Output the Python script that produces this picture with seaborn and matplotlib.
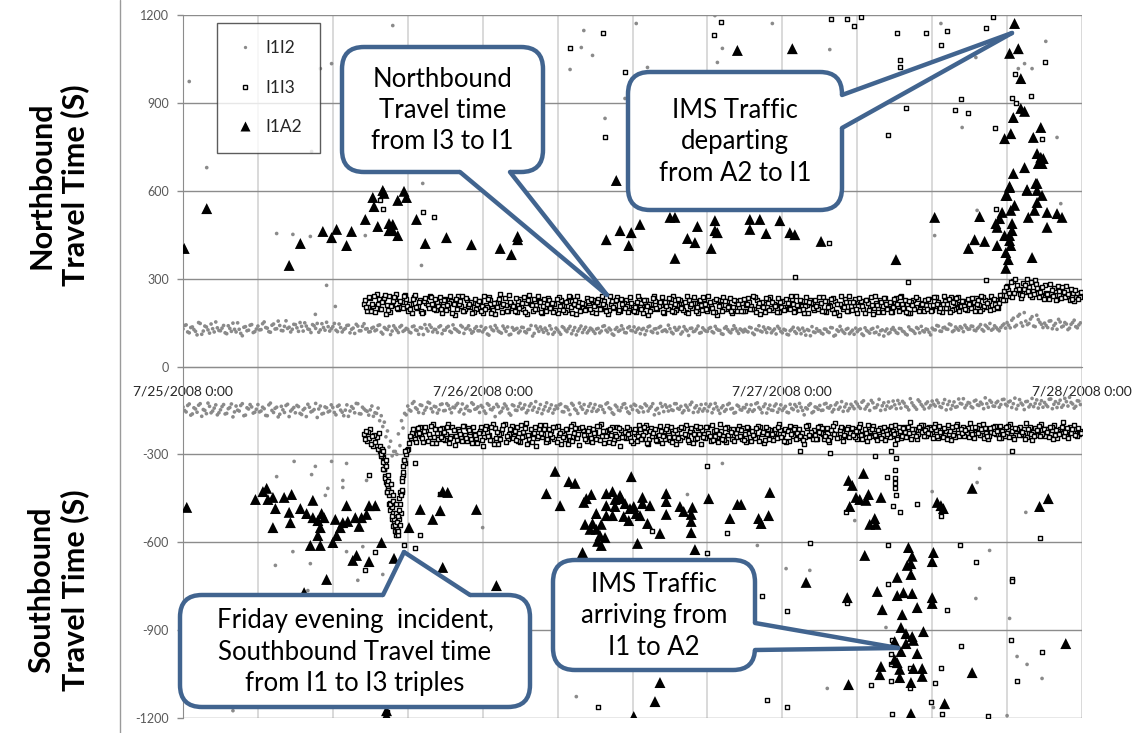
import numpy as np
import pandas as pd
import matplotlib
matplotlib.use("Agg")
import matplotlib.pyplot as plt
import seaborn as sns
from matplotlib.patches import FancyBboxPatch, Polygon
from matplotlib.lines import Line2D

# ---------------- DATA (hours since 7/25/2008 0:00, travel time in s) ----------------
x_tick_labels = ["7/25/2008 0:00", "7/26/2008 0:00", "7/27/2008 0:00", "7/28/2008 0:00"]
y_ticks = [-1200, -900, -600, -300, 0, 300, 600, 900, 1200]

# dense bands: readings every 15 min, several detector passes (start hour of each pass)
nb_i1i2_start_a = 0.0
nb_i1i2_a = [
    128,142,115,135,120,150,110,138,125,145,118,132, 122,140,112,130,148,118,127,105,136,124,143,119,
    138,126,152,131,117,145,129,140,122,156,134,127, 143,120,137,149,128,116,139,147,125,133,151,121,
    136,124,145,118,130,141,127,113,138,122,146,129, 119,134,125,142,111,128,137,121,131,116,140,124,
    127,115,138,123,133,109,129,142,118,126,135,112, 124,137,116,129,121,140,113,131,125,119,136,122,
    118,132,107,126,140,121,114,129,135,110,124,130, 121,133,115,127,104,138,120,126,131,112,128,117,
    125,110,132,119,137,123,108,129,116,134,122,127, 113,130,121,139,118,125,107,133,124,128,115,136,
    122,117,131,126,109,135,120,128,114,137,123,119, 129,112,124,134,118,127,106,131,121,138,116,125,
    120,133,115,128,123,110,136,119,126,130,113,124, 127,118,132,109,125,121,135,116,129,122,111,130,
    115,124,108,127,119,131,112,121,126,105,118,129, 122,111,127,116,132,107,120,125,113,130,118,110,
    119,128,106,123,114,130,117,109,125,121,112,127, 124,113,129,118,108,126,120,133,115,122,128,117,
    131,125,138,120,134,127,142,123,129,136,119,133, 128,137,122,135,126,141,130,124,139,127,133,145,
    150,132,165,141,178,138,155,147,170,136,160,144, 148,133,156,140,127,152,138,145,131,150,136,142]
nb_i1i2_start_b = 0.125
nb_i1i2_b = [
    140,118,133,126,108,147,121,135,114,129,152,123, 131,115,139,120,127,149,113,134,122,141,116,128,
    125,146,133,119,141,128,155,123,137,130,118,144, 132,150,121,138,126,143,130,117,146,124,136,129,
    147,119,133,126,140,115,131,144,122,137,128,118, 131,122,140,117,133,126,109,139,124,135,120,130,
    118,136,125,110,131,143,121,134,127,116,139,124, 133,120,142,126,117,135,128,139,114,130,122,137,
    126,111,135,122,131,117,138,120,108,133,127,115, 134,119,126,140,113,129,135,117,123,139,110,131,
    117,136,124,129,112,133,121,138,126,115,131,120, 128,115,137,124,131,111,127,120,139,116,132,123,
    135,126,112,130,122,138,116,129,133,120,125,141, 117,133,126,111,136,122,130,119,128,114,132,121,
    130,119,137,124,112,131,126,115,139,121,128,118, 121,134,114,127,139,118,126,132,115,128,137,120,
    127,110,122,134,113,125,131,107,123,136,116,121, 114,128,119,133,104,125,137,118,127,112,124,131,
    125,111,132,119,127,115,135,122,104,128,116,133, 116,130,121,111,135,124,113,129,137,118,126,108,
    126,140,121,132,128,145,119,135,124,131,141,127, 138,124,130,143,121,136,147,128,133,122,140,131,
    141,158,136,172,149,184,143,162,138,175,151,133, 140,155,129,147,161,135,150,126,144,158,132,149]

nb_i1i3_start_a = 14.5
nb_i1i3_a = [
    215,190,235,205,248,198,226,180,242,210,232,195, 220,245,188,212,236,201,228,185,217,240,206,193,
    214,182,230,199,222,176,241,208,190,226,203,218, 197,225,184,211,238,200,179,219,206,233,191,214,
    208,186,229,196,217,243,188,210,224,181,202,235, 199,215,183,227,205,192,238,211,178,221,204,196,
    218,187,209,232,195,224,180,213,201,236,190,207, 226,194,211,185,230,203,219,176,212,241,198,209,
    184,221,206,239,193,215,202,187,228,199,216,181, 210,229,190,205,222,177,214,236,196,208,183,225,
    201,218,188,233,207,195,226,180,212,204,238,192, 209,186,224,198,215,230,189,206,219,182,211,227,
    194,213,203,236,185,210,198,222,176,207,231,190, 205,219,184,212,196,228,203,178,216,209,192,234,
    200,187,221,208,240,195,213,182,226,204,199,217, 211,230,192,206,219,185,224,201,237,197,214,208,
    222,193,216,204,235,210,198,227,206,241,215,200, 232,258,275,240,292,262,248,285,255,270,238,296,
    264,245,278,236,252,268,230,258,242,274,226,250, 238,247]
nb_i1i3_start_b = 14.583
nb_i1i3_b = [
    228,202,188,241,215,197,233,209,185,222,246,204, 199,231,214,182,243,207,190,225,211,238,196,219,
    236,205,193,218,184,229,212,240,198,207,221,186, 213,189,242,203,226,194,217,232,185,209,244,200,
    191,223,207,238,180,214,229,196,219,205,188,227, 216,194,236,209,187,225,203,214,242,190,212,233,
    197,226,183,215,239,206,193,222,211,185,229,218, 208,237,190,221,204,183,228,215,196,224,207,236,
    219,198,231,187,210,226,194,240,205,217,189,223, 193,214,239,201,186,228,210,197,222,235,203,188,
    226,190,211,219,195,237,208,221,186,230,199,214, 187,220,204,231,197,212,241,193,225,208,184,216,
    227,198,218,189,223,205,234,187,213,196,220,239, 192,230,206,225,181,217,236,199,210,227,186,213,
    219,203,235,190,214,226,184,221,197,232,209,188, 196,224,210,236,188,213,201,229,193,218,237,205,
    208,231,199,220,212,190,238,204,223,195,228,217, 245,226,262,288,250,279,234,266,300,243,258,281,
    238,270,252,229,261,244,276,233,255,240,265,222, 251,236]
nb_i1i3_start_c = 14.667
nb_i1i3_c = [
    203,237,212,186,229,219,244,192,208,236,201,223, 241,208,195,229,203,219,182,234,200,213,229,207,
    195,227,209,240,213,197,225,188,234,215,182,229, 222,208,196,231,181,217,203,246,212,190,221,206,
    234,201,218,185,227,209,195,240,186,231,214,199, 187,231,206,194,220,239,184,227,205,216,193,222,
    230,205,221,197,213,188,241,204,227,193,215,200, 185,216,203,239,195,226,207,190,234,201,219,186,
    205,233,190,215,229,200,221,184,213,238,202,227, 237,198,220,187,232,206,191,225,203,189,227,212,
    191,229,214,198,240,186,217,203,233,192,221,207, 233,203,192,218,241,187,209,227,196,236,219,200,
    206,236,191,224,202,230,183,214,240,203,189,221, 221,195,234,207,226,193,211,240,187,219,235,198,
    187,229,212,237,199,185,224,210,236,191,215,228, 229,189,236,215,200,241,214,186,221,233,190,225,
    195,214,233,189,226,240,207,218,193,231,202,244, 228,271,250,236,298,265,243,277,259,290,247,268,
    256,232,247,283,240,226,259,271,236,249,230,262, 229,255]

sb_i1i2_start_a = 0.0
sb_i1i2_a = [
    -138,-155,-128,-162,-145,-132,-170,-150,-125,-158,-142,-165, -148,-130,-160,-140,-172,-135,-152,-127,-166,-145,-138,-156,
    -130,-152,-144,-168,-125,-157,-139,-163,-148,-133,-171,-146, -158,-137,-164,-143,-129,-155,-147,-174,-135,-160,-141,-152,
    -140,-165,-132,-156,-149,-170,-137,-158,-127,-162,-145,-153, -148,-170,-160,-185,-205,-240,-275,-305,-290,-230,-185,-160,
    -135,-152,-120,-146,-131,-160,-140,-125,-155,-138,-148,-128, -150,-133,-158,-141,-126,-147,-162,-136,-152,-129,-144,-157,
    -139,-160,-132,-148,-171,-137,-153,-128,-145,-166,-134,-150, -126,-142,-158,-135,-149,-120,-144,-161,-137,-152,-131,-147,
    -143,-128,-155,-139,-164,-132,-150,-125,-146,-159,-136,-153, -130,-148,-136,-157,-124,-145,-163,-138,-151,-129,-142,-160,
    -147,-133,-156,-141,-128,-152,-137,-165,-143,-126,-154,-139, -135,-150,-127,-146,-158,-132,-149,-122,-141,-155,-130,-144,
    -152,-129,-145,-138,-160,-134,-147,-126,-143,-157,-136,-149, -141,-155,-131,-148,-124,-146,-137,-159,-132,-150,-128,-145,
    -150,-136,-158,-143,-130,-152,-139,-165,-145,-127,-154,-140, -133,-149,-126,-142,-155,-131,-146,-120,-138,-151,-129,-144,
    -128,-143,-117,-137,-150,-124,-140,-112,-134,-147,-121,-138, -131,-116,-142,-125,-139,-110,-133,-146,-120,-136,-127,-141,
    -118,-135,-124,-140,-113,-130,-145,-121,-137,-126,-110,-132, -125,-141,-115,-133,-128,-107,-139,-122,-136,-119,-130,-112,
    -134,-118,-127,-145,-113,-131,-120,-138,-109,-126,-142,-117, -123,-137,-111,-129,-140,-115,-132,-120,-105,-128,-136,-118]
sb_i1i2_start_b = 0.125
sb_i1i2_b = [
    -150,-133,-166,-141,-156,-127,-147,-161,-136,-152,-131,-158, -137,-162,-144,-128,-155,-149,-133,-168,-141,-130,-159,-146,
    -155,-139,-167,-131,-150,-143,-172,-136,-157,-129,-152,-140, -133,-160,-148,-171,-139,-152,-126,-145,-162,-138,-155,-131,
    -157,-136,-149,-168,-131,-152,-143,-126,-161,-139,-150,-166, -135,-158,-142,-168,-190,-220,-255,-290,-300,-270,-210,-165,
    -148,-126,-141,-157,-133,-149,-122,-144,-136,-159,-130,-151, -127,-145,-139,-132,-155,-128,-143,-150,-124,-146,-138,-133,
    -152,-127,-146,-140,-129,-158,-142,-135,-160,-131,-149,-137, -145,-131,-150,-127,-139,-156,-130,-148,-124,-143,-159,-135,
    -131,-154,-137,-148,-126,-145,-160,-138,-130,-151,-127,-142, -153,-135,-147,-128,-141,-158,-132,-149,-140,-127,-155,-136,
    -129,-150,-138,-155,-134,-143,-127,-148,-160,-137,-131,-152, -148,-127,-143,-136,-151,-139,-130,-157,-134,-145,-152,-128,
    -137,-158,-126,-149,-141,-153,-130,-145,-159,-132,-147,-140, -130,-147,-153,-127,-140,-158,-128,-144,-149,-135,-156,-131,
    -143,-156,-129,-147,-137,-126,-150,-141,-132,-158,-138,-146, -150,-128,-140,-134,-147,-124,-139,-153,-128,-143,-136,-121,
    -137,-122,-145,-129,-116,-141,-131,-150,-124,-135,-142,-118, -144,-127,-119,-136,-148,-124,-139,-114,-130,-145,-121,-133,
    -129,-115,-137,-126,-148,-119,-133,-139,-111,-128,-141,-123, -137,-118,-131,-122,-144,-127,-116,-135,-124,-139,-113,-129,
    -121,-140,-108,-133,-125,-147,-119,-130,-137,-114,-128,-139, -131,-112,-144,-120,-126,-139,-109,-135,-123,-142,-117,-130]

sb_i1i3_start_a = 14.5
sb_i1i3_a = [
    -230,-255,-215,-270,-240,-290,-310,-395,-470,-520,-560,-510, -430,-330,-280,-245,-215,-232,-205,-258,-220,-240,-198,-262,
    -228,-210,-250,-195,-236,-268,-214,-241,-202,-255,-224,-207, -245,-219,-272,-203,-233,-251,-211,-265,-226,-198,-248,-217,
    -238,-206,-259,-222,-192,-247,-231,-270,-213,-242,-200,-255, -221,-246,-204,-263,-229,-212,-251,-196,-237,-268,-218,-243,
    -209,-257,-225,-240,-198,-262,-216,-234,-250,-205,-271,-227, -244,-213,-260,-231,-201,-249,-223,-266,-210,-238,-256,-219,
    -235,-204,-252,-227,-263,-215,-241,-199,-258,-222,-246,-211, -264,-230,-208,-253,-220,-242,-197,-236,-259,-214,-248,-226,
    -203,-247,-232,-211,-256,-224,-239,-207,-262,-229,-217,-250, -228,-196,-240,-214,-253,-221,-206,-245,-232,-265,-210,-237,
    -218,-249,-202,-231,-215,-258,-226,-194,-242,-211,-236,-205, -233,-212,-247,-198,-229,-256,-219,-203,-241,-224,-209,-251,
    -214,-238,-201,-226,-245,-207,-233,-190,-222,-248,-216,-199, -236,-208,-224,-197,-243,-215,-229,-201,-252,-212,-195,-234,
    -206,-227,-192,-240,-218,-200,-235,-211,-247,-223,-204,-231, -245,-213,-228,-198,-239,-220,-205,-233,-192,-226,-250,-209,
    -221,-196,-237,-212,-229,-201,-244,-215,-190,-232,-207,-224, -214,-231]
sb_i1i3_start_b = 14.583
sb_i1i3_b = [
    -248,-222,-265,-235,-280,-305,-350,-430,-490,-545,-575,-450, -370,-300,-262,-228,-246,-210,-237,-219,-255,-203,-242,-226,
    -214,-247,-230,-262,-205,-238,-221,-256,-233,-209,-247,-229, -261,-208,-239,-225,-252,-197,-243,-229,-212,-259,-231,-203,
    -219,-253,-201,-236,-264,-214,-228,-244,-199,-230,-257,-213, -240,-207,-233,-219,-248,-265,-202,-226,-244,-211,-235,-256,
    -231,-214,-246,-203,-236,-221,-259,-208,-229,-243,-217,-239, -207,-242,-225,-256,-213,-234,-200,-247,-238,-215,-233,-260,
    -249,-221,-206,-240,-228,-251,-210,-235,-219,-262,-204,-232, -216,-245,-227,-201,-238,-259,-221,-250,-207,-233,-212,-241,
    -237,-211,-258,-226,-219,-245,-202,-231,-250,-213,-238,-222, -244,-217,-230,-258,-203,-236,-249,-212,-228,-241,-199,-225,
    -233,-205,-226,-247,-211,-239,-202,-229,-218,-254,-223,-240, -209,-241,-222,-235,-214,-200,-238,-227,-252,-210,-233,-217,
    -240,-219,-228,-208,-236,-223,-205,-246,-214,-229,-201,-237, -211,-232,-243,-218,-204,-239,-220,-230,-207,-241,-226,-213,
    -236,-209,-222,-245,-211,-233,-198,-226,-238,-205,-229,-244, -219,-237,-204,-226,-248,-212,-230,-215,-241,-206,-223,-235,
    -203,-229,-215,-241,-208,-234,-219,-226,-238,-211,-227,-200, -236,-219]
sb_i1i3_start_c = 14.667
sb_i1i3_c = [
    -219,-243,-236,-257,-226,-285,-330,-415,-475,-530,-565,-430, -320,-285,-238,-214,-259,-227,-244,-206,-231,-262,-215,-249,
    -240,-223,-206,-245,-218,-251,-229,-203,-244,-217,-260,-235, -226,-250,-214,-237,-206,-264,-222,-249,-200,-236,-215,-244,
    -251,-228,-240,-209,-233,-257,-205,-238,-226,-215,-247,-232, -208,-258,-226,-241,-214,-236,-253,-211,-230,-205,-249,-220,
    -245,-227,-204,-252,-219,-238,-213,-262,-236,-209,-241,-224, -230,-255,-212,-238,-246,-205,-260,-219,-226,-251,-203,-237,
    -213,-239,-257,-218,-244,-206,-232,-250,-211,-229,-243,-208, -242,-205,-236,-251,-216,-229,-247,-209,-234,-222,-256,-214,
    -218,-252,-206,-240,-233,-211,-255,-224,-208,-246,-230,-212, -207,-239,-253,-220,-231,-214,-227,-238,-251,-203,-234,-246,
    -246,-225,-211,-236,-252,-217,-230,-244,-207,-233,-214,-228, -235,-219,-205,-249,-226,-240,-212,-233,-218,-245,-206,-229,
    -203,-232,-247,-221,-210,-239,-228,-213,-237,-206,-224,-218, -228,-214,-205,-237,-222,-211,-246,-219,-233,-204,-238,-226,
    -217,-240,-231,-208,-228,-215,-244,-236,-209,-227,-219,-203, -232,-206,-241,-219,-210,-234,-225,-247,-213,-229,-238,-216,
    -238,-212,-224,-207,-246,-218,-231,-205,-222,-244,-213,-235, -210,-228]

# Friday evening incident (extra southbound I1->I3 readings)
inc_h = [15.8,15.9,16.0,16.1,16.2,16.3,16.4,16.5,16.6,16.7,16.8,16.9,17.0,17.1,17.2,17.25,17.3,17.4,17.5,17.6,17.7,17.8,
         15.85,15.95,16.05,16.15,16.25,16.35,16.45,16.55,16.65,16.75,16.85,16.95,17.05,17.15,17.35,17.45,17.55,17.65,
         16.02,16.22,16.42,16.62,16.82,17.02,17.22,17.32,17.42,17.52]
inc_v = [-270,-300,-325,-350,-375,-400,-420,-440,-465,-480,-500,-520,-540,-555,-575,-560,-520,-470,-420,-360,-320,-290,
         -300,-280,-350,-380,-340,-430,-390,-470,-430,-510,-460,-540,-500,-530,-540,-500,-380,-340,
         -290,-320,-370,-400,-440,-470,-510,-490,-440,-390]

# sparse readings
nb_a2_h = [0.1,1.9,8.5,9.4,11.2,11.9,12.3,13.1,13.5,14.6,15.2,15.3,16.0,16.1,15.6,16.5,16.8,16.5,16.8,17.2,17.2,17.7,17.9,18.7,19.4,21.1,
           23.1,25.4,26.3,26.8,26.8,33.9,35.0,35.7,35.9,36.6,34.7,39.0,39.4,40.4,41.0,41.2,39.4,42.3,42.6,42.6,42.8,44.4,45.4,45.4,46.2,46.7,
           47.8,48.6,49.0,48.8,51.1,57.1,60.2,62.9,63.4,64.2,63.8,65.2,65.2,65.1,65.4,65.6,65.9,66.2,66.3,66.6,65.8,66.2,66.2,66.3,65.9,66.1,
           65.9,66.4,66.4,68.0,67.7,68.2,68.4,67.6,68.3,68.4,68.8,69.2,69.2,70.0,70.4,66.6,66.2,66.9,67.1,66.5,67.1,67.4,68.7,68.1,66.3,65.8,
           68.4,68.7,68.9,68.5,68.8,67.4,66.5,66.2,67.6,68.4,66.0]
nb_a2_v = [403,539,345,420,461,440,468,413,461,502,577,546,601,591,478,488,485,464,464,567,447,598,577,502,420,440,
           416,403,382,444,433,433,464,413,457,485,635,509,509,437,423,478,369,403,498,464,457,1079,502,468,502,454,
           498,457,450,1085,427,365,509,403,433,427,512,413,475,488,505,526,584,611,533,550,447,447,430,413,389,365,
           335,464,488,372,509,533,560,601,625,601,584,526,475,522,509,1171,1069,1085,983,850,881,871,816,782,795,778,
           727,714,710,693,693,679,659,615,604,625,584]

nb_i1i3_out_h = [15.8,16.0,19.2,20.1,51.7,49.0,58.1,64.3,65.1,31.0,33.6,35.4,33.8,43.1,42.5,51.9,53.2,53.7,54.3,57.2,59.5,61.2,60.7,
                 57.4,57.4,57.9,56.5,61.8,62.9,62.3,65.0,64.9,64.3,69.0,66.6,67.9,66.4,66.7,68.8]
nb_i1i3_out_v = [567,539,529,509,423,304,290,294,539,1089,1137,1004,782,1175,1133,1185,1188,1164,1192,1137,1137,1144,1099,
                 1045,1021,884,792,874,864,912,813,1192,1157,1038,1000,922,918,901,775]

nb_i1i2_out_h = [0.5,1.9,11.0,11.9,10.3,16.8,19.2,7.5,8.8,10.2,11.5,12.2,10.6,14.6,19.1,32.1,31.9,32.8,31.0,33.8,35.4,36.3,37.2,
                 43.2,42.8,47.2,42.6,51.8,60.7,63.5,62.4,69.1,67.4,68.0,66.9,70.0,60.2,70.3,63.6]
nb_i1i2_out_v = [973,679,1017,1034,734,1164,625,454,451,444,277,205,178,447,345,1147,1089,1062,1014,847,915,1171,1021,
                 1086,1038,1171,1198,1082,1171,1055,816,1110,1034,1017,1017,782,447,556,533]

sb_a2_h = [0.3,5.8,6.4,6.7,6.8,7.2,7.4,7.2,8.1,8.5,8.6,8.7,9.4,9.9,10.2,10.4,10.4,10.8,11.0,10.8,11.0,11.1,11.3,12.0,12.2,12.3,
           12.6,12.8,13.1,13.2,13.8,14.1,14.3,14.7,14.9,15.4,15.9,16.9,18.1,19.0,20.0,20.6,20.8,11.5,13.6,13.9,14.9,20.8,9.7,16.3,
           16.3,25.1,38.2,37.8,36.1,21.2,23.5,29.8,29.1,30.2,30.9,31.4,32.0,32.1,32.3,32.7,33.1,32.2,32.8,32.6,33.1,33.5,33.4,33.8,
           33.2,33.5,33.9,34.4,34.6,35.0,35.1,33.9,34.6,33.9,34.4,35.3,35.7,35.9,35.4,35.8,36.1,36.3,36.6,36.8,36.8,37.2,37.4,36.4,
           38.2,38.7,38.7,38.7,39.8,40.1,40.7,40.8,40.7,40.7,41.0,42.1,43.8,44.4,44.7,46.1,46.3,46.9,47.0,54.5,53.3,53.6,53.9,54.2,
           54.7,54.9,55.9,53.4,55.0,55.4,55.5,60.4,60.7,60.9,63.2,68.6,69.3,54.6,58.1,58.4,58.3,58.0,60.1,60.0,57.2,58.3,49.9,53.2,
           55.6,57.7,57.2,58.4,60.0,60.0,56.0,58.8,57.6,57.5,59.3,57.9,58.4,58.5,57.0,57.9,57.5,58.8,57.0,57.2,55.9,57.4,58.5,59.2,
           55.8,57.4,59.2,58.3,53.3,63.2,61.0,58.3,70.7]
sb_a2_v = [-481,-454,-427,-416,-454,-447,-485,-550,-447,-498,-533,-437,-485,-502,-611,-457,-516,-526,-550,-577,-611,-502,-516,-601,-522,-577,
           -550,-533,-475,-529,-516,-546,-516,-505,-475,-475,-601,-655,-550,-488,-522,-492,-427,-727,-662,-645,-666,-686,-772,-1192,
           -1175,-748,-1079,-1144,-1195,-430,-488,-358,-434,-475,-393,-399,-635,-464,-451,-437,-502,-539,-536,-556,-556,-539,-577,-584,
           -597,-611,-434,-427,-454,-440,-451,-475,-478,-509,-509,-512,-526,-376,-468,-485,-478,-502,-509,-447,-468,-536,-475,-604,
           -570,-434,-461,-505,-478,-495,-505,-481,-529,-567,-625,-451,-519,-471,-471,-519,-536,-509,-430,-365,-389,-406,-447,-454,
           -457,-437,-447,-478,-539,-519,-539,-464,-475,-485,-416,-478,-451,-645,-618,-648,-673,-679,-635,-666,-720,-710,-737,-789,
           -768,-772,-782,-775,-789,-809,-830,-823,-847,-891,-905,-912,-922,-935,-939,-946,-973,-980,-1000,-1011,-1024,-1034,-1031,-1031,
           -1052,-1062,-1058,-1079,-1086,-1045,-1151,-1185,-946]

sb_i1i3_out_h = [19.0,17.7,18.6,15.4,14.9,14.6,20.6,18.6,57.0,56.7,57.1,57.0,56.4,57.0,57.0,57.0,57.1,56.9,57.4,53.1,58.8,60.7,68.6,
                 50.2,56.5,62.2,63.5,66.4,49.4,51.8,55.4,66.4,37.6,43.6,42.0,42.0,46.4,48.4,53.2,56.5,61.2,66.4,66.3,68.8,62.3,60.7,
                 66.8,60.2,55.1,56.7,58.2,46.8,48.4,59.9,56.8,60.8,64.5,56.8,56.7,56.7,58.2,33.2,16.3]
sb_i1i3_out_v = [-574,-608,-618,-632,-372,-696,-434,-328,-263,-287,-311,-352,-376,-379,-399,-416,-440,-475,-498,-498,-471,-512,-584,
                 -604,-608,-608,-669,-727,-287,-294,-304,-290,-560,-567,-338,-635,-785,-836,-809,-741,-830,-731,-935,-976,-953,-1028,
                 -1075,-1082,-1089,-1075,-1099,-1137,-1161,-1147,-1188,-1188,-1192,-935,-980,-1017,-1028,-1164,-1181]

sb_i1i2_out_h = [8.9,10.6,11.9,13.1,7.5,10.3,12.8,11.6,11.4,12.8,14.7,8.8,13.1,14.4,7.4,10.2,16.0,14.0,10.0,4.0,24.0,43.2,40.4,46.0,
                 63.8,63.6,60.0,67.5,53.8,64.6,48.3,50.2,51.6,63.5,66.2,66.8,67.6,68.8,60.8,56.3,60.1,66.0,31.5]
sb_i1i2_out_v = [-324,-341,-324,-331,-376,-369,-389,-416,-440,-413,-389,-632,-632,-615,-679,-673,-710,-730,-765,-1175,-550,-331,-437,-611,
                 -348,-396,-427,-498,-526,-628,-690,-696,-1099,-792,-860,-990,-1017,-1065,-1028,-891,-1164,-1192,-1127]

# ---------------- FIGURE ----------------
sns.set_style("white")
plt.rcParams["font.family"] = ["Lato", "DejaVu Sans"]

W, H = 1135, 733
fig = plt.figure(figsize=(W / 100, H / 100), dpi=100)
ax = fig.add_axes([183 / W, 1 - 718 / H, (1082 - 183) / W, (718 - 15) / H])


def band(start, vals):
    return start + 0.25 * np.arange(len(vals)), np.asarray(vals)


gray = "#8a8a8a"
sq_kw = dict(marker="s", s=10, color="white", edgecolor="black", linewidth=1.0)
dot_kw = dict(marker="o", s=7, color=gray, edgecolor="none", linewidth=0)
tri_kw = dict(marker="^", s=62, color="black", edgecolor="none", linewidth=0)

gray_bands = [(nb_i1i2_start_a, nb_i1i2_a), (nb_i1i2_start_b, nb_i1i2_b),
              (sb_i1i2_start_a, sb_i1i2_a), (sb_i1i2_start_b, sb_i1i2_b)]
square_bands = [(nb_i1i3_start_a, nb_i1i3_a), (nb_i1i3_start_b, nb_i1i3_b), (nb_i1i3_start_c, nb_i1i3_c),
                (sb_i1i3_start_a, sb_i1i3_a), (sb_i1i3_start_b, sb_i1i3_b), (sb_i1i3_start_c, sb_i1i3_c)]

# I1I2 (gray dots)
for start, vals in gray_bands:
    hx, vy = band(start, vals)
    sns.scatterplot(x=hx, y=vy, ax=ax, zorder=3, **dot_kw)
sns.scatterplot(x=nb_i1i2_out_h, y=nb_i1i2_out_v, ax=ax, zorder=3, **dot_kw)
sns.scatterplot(x=sb_i1i2_out_h, y=sb_i1i2_out_v, ax=ax, zorder=3, **dot_kw)

# I1I3 (open squares)
for start, vals in square_bands:
    hx, vy = band(start, vals)
    sns.scatterplot(x=hx, y=vy, ax=ax, zorder=4, **sq_kw)
sns.scatterplot(x=inc_h, y=inc_v, ax=ax, zorder=4, **sq_kw)
sns.scatterplot(x=nb_i1i3_out_h, y=nb_i1i3_out_v, ax=ax, zorder=4, **sq_kw)
sns.scatterplot(x=sb_i1i3_out_h, y=sb_i1i3_out_v, ax=ax, zorder=4, **sq_kw)

# I1A2 (triangles)
sns.scatterplot(x=nb_a2_h, y=nb_a2_v, ax=ax, zorder=5, **tri_kw)
sns.scatterplot(x=sb_a2_h, y=sb_a2_v, ax=ax, zorder=5, **tri_kw)

ax.set_xlim(0, 72)
ax.set_ylim(-1200, 1200)
ax.set_xlabel("")
ax.set_ylabel("")

six_hours = list(range(0, 73, 6))
ax.set_xticks(six_hours)
ax.set_xticklabels([x_tick_labels[h // 24] if h % 24 == 0 else "" for h in six_hours],
                   fontsize=9.5, color="#333333")
ax.tick_params(axis="x", length=0, pad=14)
ax.set_yticks(y_ticks)
ax.set_yticklabels([str(v) for v in y_ticks], fontsize=9, color="#595959")
ax.tick_params(axis="y", length=4, color="#8c8c8c", width=1, pad=6, direction="out", left=True)

ax.grid(False)
for h in six_hours:
    ax.axvline(h, color="#d9d9d9", lw=1.4, zorder=1)
for v in y_ticks:
    ax.axhline(v, color="#8c8c8c", lw=1.0, zorder=1.5)

for s in ["top", "right"]:
    ax.spines[s].set_visible(False)
ax.spines["bottom"].set_position(("data", 0))
ax.spines["bottom"].set_color("#8c8c8c")
ax.spines["left"].set_color("#8c8c8c")

# legend
handles = [
    Line2D([], [], ls="none", marker="o", ms=2.4, mfc=gray, mec="none"),
    Line2D([], [], ls="none", marker="s", ms=3.4, mfc="white", mec="black", mew=1.0),
    Line2D([], [], ls="none", marker="^", ms=7.5, mfc="black", mec="none"),
]
leg = fig.legend(handles, ["I1I2", "I1I3", "I1A2"], loc="upper left",
                 bbox_to_anchor=(217 / W, 1 - 23 / H), bbox_transform=fig.transFigure,
                 fontsize=12.5, frameon=True, fancybox=False, edgecolor="#333333",
                 labelspacing=1.35, handlelength=1.2, handletextpad=0.6, borderpad=1.0,
                 borderaxespad=0)
leg.get_frame().set_linewidth(1.0)
leg.set_zorder(20)

# ---------------- overlay in pixel coordinates: callouts, labels ----------------
ov = fig.add_axes([0, 0, 1, 1], facecolor="none")
ov.set_xlim(0, W)
ov.set_ylim(H, 0)
ov.axis("off")
ov.set_zorder(10)

ov.plot([120, 120], [0, H], color="#9a9a9a", lw=1.0)

ov.text(58, 185, "Northbound\nTravel Time (S)", rotation=90, ha="center", va="center",
        fontsize=22, fontweight="bold", linespacing=1.2, color="black")
ov.text(58, 590, "Southbound\nTravel Time (S)", rotation=90, ha="center", va="center",
        fontsize=22, fontweight="bold", linespacing=1.2, color="black")

blue = "#41648f"


def callout(box, b1, b2, tip, text, side):
    x0, y0, x1, y1 = box
    ov.add_patch(FancyBboxPatch((x0, y0), x1 - x0, y1 - y0,
                                boxstyle="round,pad=0,rounding_size=22",
                                fc="white", ec=blue, lw=3.2, zorder=2))
    d = {"bottom": (0, -5), "top": (0, 5), "right": (-5, 0)}[side]
    pts = [(b1[0] + d[0], b1[1] + d[1]), b1, tip, b2, (b2[0] + d[0], b2[1] + d[1])]
    ov.add_patch(Polygon(pts, closed=True, fc="white", ec="none", zorder=3))
    for b in (b1, b2):
        ov.plot([b[0], tip[0]], [b[1], tip[1]], color=blue, lw=3.2,
                solid_capstyle="round", zorder=4)
    ov.text((x0 + x1) / 2, (y0 + y1) / 2 + 1, text, ha="center", va="center",
            fontsize=18.5, linespacing=1.32, color="black", zorder=5)


callout((342, 47, 543, 172), (460, 172), (510, 172), (607, 295),
        "Northbound\nTravel time\nfrom I3 to I1", "bottom")
callout((628, 72, 842, 210), (842, 95), (842, 128), (1012, 33),
        "IMS Traffic\ndeparting\nfrom A2 to I1", "right")
callout((180, 595, 530, 707), (383, 595), (470, 595), (404, 552),
        "Friday evening  incident,\nSouthbound Travel time\nfrom I1 to I3 triples", "top")
callout((553, 560, 755, 670), (755, 623), (755, 650), (898, 648),
        "IMS Traffic\narriving from\nI1 to A2", "right")

fig.savefig("out.png", dpi=100)
